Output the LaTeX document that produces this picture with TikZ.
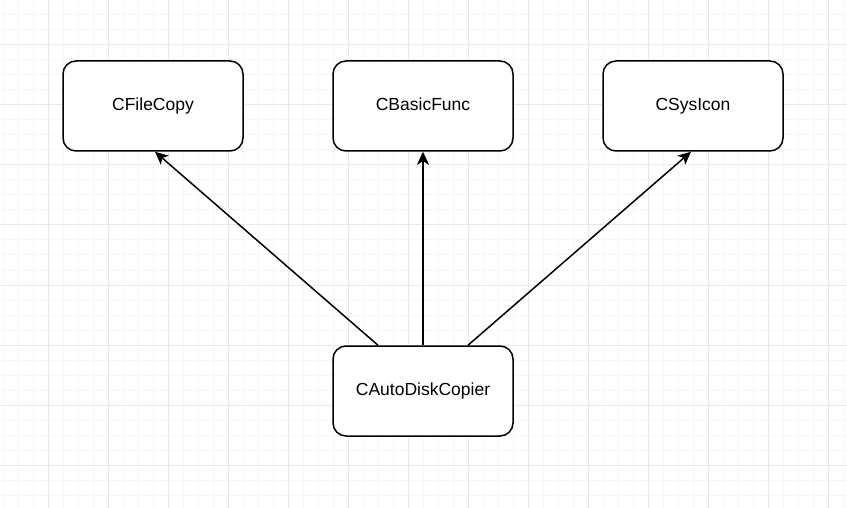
\documentclass[tikz,border=0pt]{standalone}
\usepackage{fontspec}
\setmainfont{Liberation Sans}
\usetikzlibrary{arrows.meta}
\definecolor{gridminor}{HTML}{F6F6F6}
\definecolor{gridmajor}{HTML}{E8E8E8}
\tikzset{
  classbox/.style={draw=black, line width=1.5pt, rounded corners=13pt, fill=white,
    minimum width=180pt, minimum height=90pt, inner sep=0pt,
    text height=12.5pt, text depth=3.5pt,
    font=\fontsize{17.5}{20}\selectfont},
  arr/.style={line width=1.5pt, -{Stealth[length=13pt,width=12pt,inset=3.5pt]}},
}
\begin{document}
\begin{tikzpicture}[x=1pt,y=-1pt]
\useasboundingbox (0,0) rectangle (847,508);
\fill[white] (0,0) rectangle (847,508);
% grid
\foreach \i in {0,...,56} {
  \draw[gridminor, line width=1pt] ({3.5+15*\i},0) -- ({3.5+15*\i},508);
}
\foreach \i in {0,...,33} {
  \draw[gridminor, line width=1pt] (0,{15*\i}) -- (847,{15*\i});
}
\foreach \i in {0,...,13} {
  \draw[gridmajor, line width=1pt] ({48.5+60*\i},0) -- ({48.5+60*\i},508);
}
\foreach \i in {0,...,7} {
  \draw[gridmajor, line width=1pt] (0,{45+60*\i}) -- (847,{45+60*\i});
}
% nodes
\node[classbox] (fc) at (153,106) {CFileCopy};
\node[classbox] (bf) at (423,106) {CBasicFunc};
\node[classbox] (si) at (693,106) {CSysIcon};
\node[classbox] (ad) at (423,391) {CAutoDiskCopier};
% connectors
\draw[arr] ([xshift=-45pt]ad.north) -- ([xshift=2pt]fc.south);
\draw[arr] (ad.north) -- (bf.south);
\draw[arr] ([xshift=45pt]ad.north) -- ([xshift=-2pt]si.south);
\end{tikzpicture}
\end{document}
